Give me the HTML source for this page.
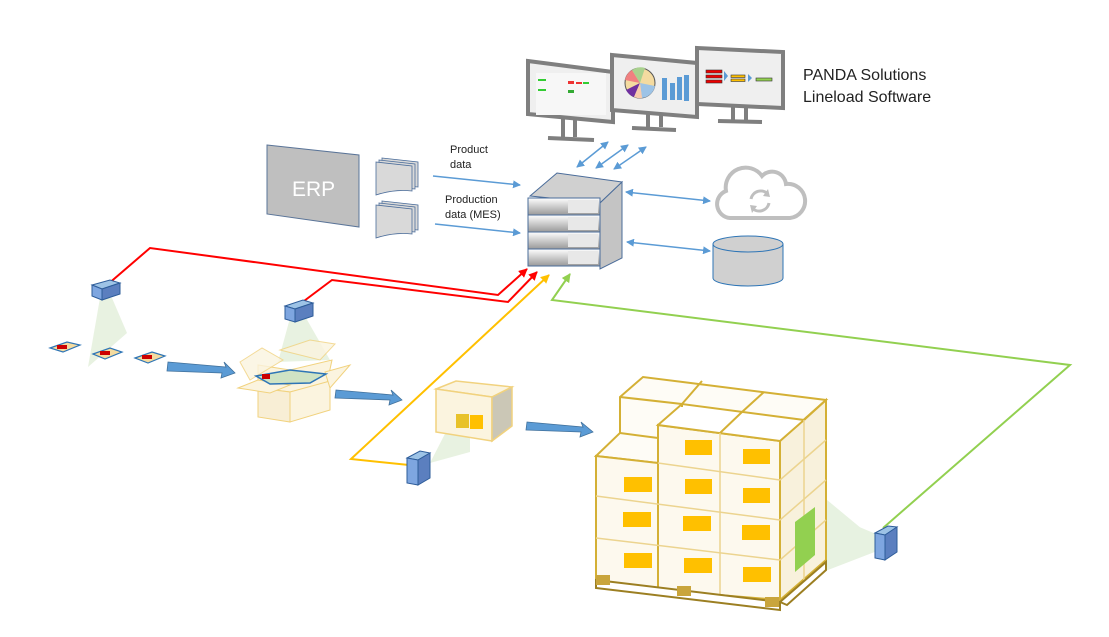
<!DOCTYPE html>
<html><head><meta charset="utf-8"><style>
html,body{margin:0;padding:0;background:#fff;}
svg{display:block;font-family:"Liberation Sans",sans-serif;}
</style></head><body>
<svg width="1109" height="637" viewBox="0 0 1109 637" xmlns="http://www.w3.org/2000/svg">
<defs>
<marker id="ab" markerWidth="8" markerHeight="8" refX="7" refY="4" orient="auto" markerUnits="userSpaceOnUse"><path d="M0,0 L8,4 L0,8 z" fill="#5b9bd5"/></marker>
<marker id="abs" markerWidth="8" markerHeight="8" refX="1" refY="4" orient="auto" markerUnits="userSpaceOnUse"><path d="M8,0 L0,4 L8,8 z" fill="#5b9bd5"/></marker>
<marker id="ar" markerWidth="9" markerHeight="9" refX="8" refY="4.5" orient="auto" markerUnits="userSpaceOnUse"><path d="M0,0 L9,4.5 L0,9 z" fill="#ff0000"/></marker>
<marker id="ay" markerWidth="9" markerHeight="9" refX="8" refY="4.5" orient="auto" markerUnits="userSpaceOnUse"><path d="M0,0 L9,4.5 L0,9 z" fill="#ffc000"/></marker>
<marker id="ag" markerWidth="9" markerHeight="9" refX="8" refY="4.5" orient="auto" markerUnits="userSpaceOnUse"><path d="M0,0 L9,4.5 L0,9 z" fill="#92d050"/></marker>
<linearGradient id="su" x1="0" y1="0" x2="0" y2="1"><stop offset="0" stop-color="#fff"/><stop offset="1" stop-color="#999"/></linearGradient>
</defs>

<!-- Monitors -->
<g stroke="#7f7f7f" stroke-width="4" fill="#fff">
<polygon points="528,61 613,72 613,122 528,114" fill="#efefef"/>
<line x1="563" y1="118" x2="563" y2="137"/><line x1="575" y1="120" x2="575" y2="137"/><line x1="548" y1="138" x2="594" y2="140"/>
<polygon points="612,55 697,63 697,117 612,110" fill="#efefef"/>
<line x1="648" y1="113" x2="648" y2="127"/><line x1="661" y1="115" x2="661" y2="127"/><line x1="632" y1="128" x2="676" y2="130"/>
<polygon points="697,48 783,52 783,108 697,104" fill="#efefef"/>
<line x1="733" y1="106" x2="733" y2="120"/><line x1="746" y1="106" x2="746" y2="120"/><line x1="718" y1="121" x2="762" y2="122"/>
</g>
<rect x="536" y="73" width="70" height="42" fill="#f7f7f7"/>
<rect x="538" y="79" width="8" height="2" fill="#3c3"/><rect x="568" y="81" width="6" height="3" fill="#e33"/><rect x="576" y="82" width="6" height="2" fill="#e33"/><rect x="583" y="82" width="6" height="2" fill="#3c3"/><rect x="538" y="89" width="8" height="2" fill="#3c3"/><rect x="568" y="90" width="6" height="3" fill="#3a3"/>
<circle cx="640" cy="83" r="15" fill="#f4dba0" stroke="#555" stroke-width="1"/>
<path d="M640,83 L625,80 A15,15 0 0 1 632,70 z" fill="#f08080"/>
<path d="M640,83 L632,70 A15,15 0 0 1 645,68 z" fill="#a9d18e"/>
<path d="M640,83 L626,90 A15,15 0 0 0 634,97 z" fill="#7030a0"/>
<path d="M640,83 L655,86 A15,15 0 0 1 642,98 z" fill="#9dc3e6"/>
<path d="M640,83 L634,97 A15,15 0 0 0 642,98 z" fill="#f8cbad"/>
<g fill="#5b9bd5"><rect x="662" y="78" width="5" height="22"/><rect x="670" y="83" width="5" height="17"/><rect x="677" y="77" width="5" height="23"/><rect x="684" y="75" width="5" height="26"/></g>
<g stroke="#333" stroke-width="0.6"><rect x="706" y="70" width="16" height="3" fill="#e00"/><rect x="706" y="75" width="16" height="3" fill="#e00"/><rect x="706" y="80" width="16" height="3" fill="#e00"/>
<rect x="731" y="75" width="14" height="2.5" fill="#ffc000"/><rect x="731" y="79" width="14" height="2.5" fill="#ffc000"/><rect x="756" y="78" width="16" height="3" fill="#92d050"/></g>
<path d="M724,71 l4,5 l-4,5z M748,74 l4,4 l-4,4z" fill="#5b9bd5"/>

<text x="803" y="80" font-size="16" fill="#222">PANDA Solutions</text>
<text x="803" y="102" font-size="16" fill="#222">Lineload Software</text>

<!-- ERP -->
<polygon points="267,145 359,155 359,227 267,214" fill="#bfbfbf" stroke="#5a7498" stroke-width="1"/>
<text x="292" y="196" font-size="21" fill="#fff">ERP</text>
<g fill="#d9d9d9" stroke="#4a6c9a" stroke-width="0.8">
<path d="M382,158 l36,4 v25 q-18,-2 -36,4z"/><path d="M379,160 l36,4 v25 q-18,-2 -36,4z"/><path d="M376,162 l36,4 v25 q-18,-2 -36,4z"/>
<path d="M382,201 l36,4 v25 q-18,-2 -36,4z"/><path d="M379,203 l36,4 v25 q-18,-2 -36,4z"/><path d="M376,205 l36,4 v25 q-18,-2 -36,4z"/>
</g>
<text x="450" y="153" font-size="11" fill="#222">Product</text>
<text x="450" y="168" font-size="11" fill="#222">data</text>
<text x="445" y="203" font-size="11" fill="#222">Production</text>
<text x="445" y="218" font-size="11" fill="#222">data (MES)</text>
<g stroke="#5b9bd5" stroke-width="1.5" fill="none">
<line x1="433" y1="176" x2="520" y2="185" marker-end="url(#ab)"/>
<line x1="435" y1="224" x2="520" y2="233" marker-end="url(#ab)"/>
<line x1="577" y1="167" x2="608" y2="142" marker-end="url(#ab)" marker-start="url(#abs)"/>
<line x1="596" y1="168" x2="628" y2="145" marker-end="url(#ab)" marker-start="url(#abs)"/>
<line x1="614" y1="169" x2="646" y2="147" marker-end="url(#ab)" marker-start="url(#abs)"/>
<line x1="626" y1="192" x2="710" y2="201" marker-end="url(#ab)" marker-start="url(#abs)"/>
<line x1="627" y1="242" x2="710" y2="251" marker-end="url(#ab)" marker-start="url(#abs)"/>
</g>

<!-- server -->
<polygon points="530,196 557,173 622,182 600,203" fill="#d0d0d0" stroke="#4a6c9a" stroke-width="1"/>
<polygon points="600,203 622,182 622,258 600,269" fill="#c4c4c4" stroke="#4a6c9a" stroke-width="1"/>
<g stroke="#4a6c9a" stroke-width="1">
<rect x="528" y="198" width="72" height="17" fill="url(#su)"/>
<rect x="528" y="215" width="72" height="17" fill="url(#su)"/>
<rect x="528" y="232" width="72" height="17" fill="url(#su)"/>
<rect x="528" y="249" width="72" height="17" fill="url(#su)"/>
</g>
<g fill="#e8e8e8"><rect x="568" y="200" width="30" height="13"/><rect x="568" y="217" width="30" height="13"/><rect x="568" y="234" width="30" height="13"/><rect x="568" y="251" width="30" height="13"/></g>

<!-- cloud -->
<path d="M730,218 a14,14 0 0 1 -4,-27 a20,20 0 0 1 36,-15 a14,14 0 0 1 24,8 a15,15 0 0 1 4,34 z" fill="#fff" stroke="#bfbfbf" stroke-width="4"/>
<path d="M751,199 a10,10 0 0 1 17,-5 M769,203 a10,10 0 0 1 -17,5" fill="none" stroke="#bfbfbf" stroke-width="3"/>
<path d="M768,189 l2,8 l-7,-1z M752,213 l-2,-8 l7,1z" fill="#bfbfbf"/>
<!-- DB -->
<path d="M713,244 v34 a35,8 0 0 0 70,0 v-34" fill="#d0d0d0" stroke="#2e75b6" stroke-width="1"/>
<ellipse cx="748" cy="244" rx="35" ry="8" fill="#d0d0d0" stroke="#2e75b6" stroke-width="1"/>

<!-- connectors -->
<g fill="none" stroke-width="2">
<polyline points="107,285 150,248 498,295 527,269" stroke="#ff0000" marker-end="url(#ar)"/>
<polyline points="300,304 332,280 508,302 537,272" stroke="#ff0000" marker-end="url(#ar)"/>
<polyline points="409,465 351,459 549,275" stroke="#ffc000" marker-end="url(#ay)"/>
<polyline points="883,528 1070,365 552,300 570,274" stroke="#92d050" marker-end="url(#ag)"/>
</g>

<!-- light cones -->
<g fill="#e2efda" opacity="0.8">
<polygon points="100,298 112,298 127,333 88,367"/>
<polygon points="290,318 306,318 330,360 278,362"/>
<polygon points="430,463 470,385 470,452"/>
<polygon points="895,542 795,500 795,572"/>
<polygon points="885,548 815,490 815,575"/>
</g>

<!-- products -->
<g stroke="#2e75b6" stroke-width="1.2">
<polygon points="50,348 67,342 80,345 63,352" fill="#f4dba0"/><rect x="57" y="345" width="10" height="4" fill="#c00" stroke="none"/>
<polygon points="93,354 110,348 122,352 105,359" fill="#f4dba0"/><rect x="100" y="351" width="10" height="4" fill="#c00" stroke="none"/>
<polygon points="135,358 152,352 165,356 148,363" fill="#f4dba0"/><rect x="142" y="355" width="10" height="4" fill="#c00" stroke="none"/>
</g>
<g fill="#5b9bd5" stroke="#41719c" stroke-width="0.8">
<polygon points="168,362 226,367 224,362 235,373 221,378 222,373 167,371"/>
<polygon points="336,390 393,395 391,390 402,400 389,405 390,400 335,398"/>
<polygon points="527,422 583,427 581,422 593,432 580,437 581,432 526,430"/>
</g>

<!-- open box -->
<g stroke="#f1d27e" stroke-width="1" fill="#fbf4df">
<polygon points="258,388 290,392 327,383 332,360 290,370 258,365"/>
<polygon points="258,388 258,417 290,422 290,392" fill="#f8eed5"/>
<polygon points="290,392 330,381 330,410 290,422"/>
<polygon points="240,362 262,348 283,360 250,380" opacity="0.8"/>
<polygon points="280,350 310,340 335,344 320,360" opacity="0.8"/>
<polygon points="325,372 350,365 330,388"/>
<polygon points="238,388 258,380 290,385 270,393"/>
</g>
<polygon points="256,376 290,370 326,374 310,383 270,384" fill="#cfe3c4" stroke="#2e75b6" stroke-width="1.5"/>
<rect x="262" y="374" width="8" height="5" fill="#c00"/>

<!-- small box -->
<polygon points="436,389 456,381 512,387 492,397" fill="#fbf4df" stroke="#f1d27e" stroke-width="1.5"/>
<polygon points="436,389 492,397 492,441 436,432" fill="#fbf4df" stroke="#f1d27e" stroke-width="1.5"/>
<polygon points="492,397 512,387 512,426 492,441" fill="#cbc7b6" stroke="#f1d27e" stroke-width="1.5"/>
<rect x="456" y="414" width="13" height="14" fill="#e8c22a"/><rect x="470" y="415" width="13" height="14" fill="#ffc000"/>

<!-- pallet -->
<g stroke="#d4b035" stroke-width="2" fill="#fdf9ee">
<polygon points="620,397 643,377 826,400 780,441 658,425 658,463 596,456 620,433" fill="#fefcf6"/>
<polygon points="596,456 658,463 658,590 596,580"/>
<polygon points="658,425 780,441 780,600 658,590"/>
<polygon points="780,441 826,400 826,560 780,600" fill="#f8f1dc"/>
<polygon points="658,425 682,404 804,420 780,441" fill="#fff"/>
<polyline points="620,397 682,404" fill="none"/>
<polyline points="620,397 620,433 658,438" fill="none"/>
<polyline points="682,404 682,407" fill="none"/>
<polyline points="702,381 682,404" fill="none"/>
<polyline points="764,392 742,412 720,433" fill="none"/>
<polyline points="804,420 826,400" fill="none"/>
</g>
<g stroke="#ecd48f" stroke-width="1.5" fill="none">
<line x1="596" y1="496" x2="780" y2="520"/>
<line x1="596" y1="538" x2="780" y2="560"/>
<line x1="658" y1="463" x2="780" y2="480"/>
<line x1="720" y1="433" x2="720" y2="595"/>
<line x1="780" y1="480" x2="826" y2="440"/>
<line x1="780" y1="520" x2="826" y2="480"/>
<line x1="780" y1="560" x2="826" y2="520"/>
<line x1="804" y1="420" x2="804" y2="580"/>
</g>
<g fill="#ffc000">
<rect x="685" y="440" width="27" height="15"/><rect x="743" y="449" width="27" height="15"/>
<rect x="624" y="477" width="28" height="15"/><rect x="685" y="479" width="27" height="15"/><rect x="743" y="488" width="27" height="15"/>
<rect x="623" y="512" width="28" height="15"/><rect x="683" y="516" width="28" height="15"/><rect x="742" y="525" width="28" height="15"/>
<rect x="624" y="553" width="28" height="15"/><rect x="684" y="558" width="28" height="15"/><rect x="743" y="567" width="28" height="15"/>
</g>
<g stroke="#9c7f22" stroke-width="2" fill="#fff">
<polygon points="596,580 780,602 780,610 596,588"/>
<polygon points="780,602 826,562 826,570 787,605"/>
</g>
<g fill="#c9a53c"><rect x="596" y="575" width="14" height="10"/><rect x="677" y="586" width="14" height="10"/><rect x="765" y="597" width="14" height="10"/></g>
<polygon points="795,522 815,507 815,555 795,572" fill="#92d050"/>

<!-- cameras -->
<g stroke="#2e5d9a" stroke-width="1">
<polygon points="92,285 110,280 120,283 102,289" fill="#9dc3e6"/><polygon points="92,285 102,289 102,300 92,296" fill="#7ea6e0"/><polygon points="102,289 120,283 120,294 102,300" fill="#5b7fbf"/>
<polygon points="285,306 303,300 313,303 295,309" fill="#9dc3e6"/><polygon points="285,306 295,309 295,322 285,319" fill="#7ea6e0"/><polygon points="295,309 313,303 313,316 295,322" fill="#5b7fbf"/>
<polygon points="407,458 420,451 430,453 418,460" fill="#9dc3e6"/><polygon points="407,458 418,460 418,485 407,483" fill="#7ea6e0"/><polygon points="418,460 430,453 430,478 418,485" fill="#5b7fbf"/>
<polygon points="875,533 888,526 897,527 885,535" fill="#9dc3e6"/><polygon points="875,533 885,535 885,560 875,558" fill="#7ea6e0"/><polygon points="885,535 897,527 897,552 885,560" fill="#5b7fbf"/>
</g>
</svg>
</body></html>
